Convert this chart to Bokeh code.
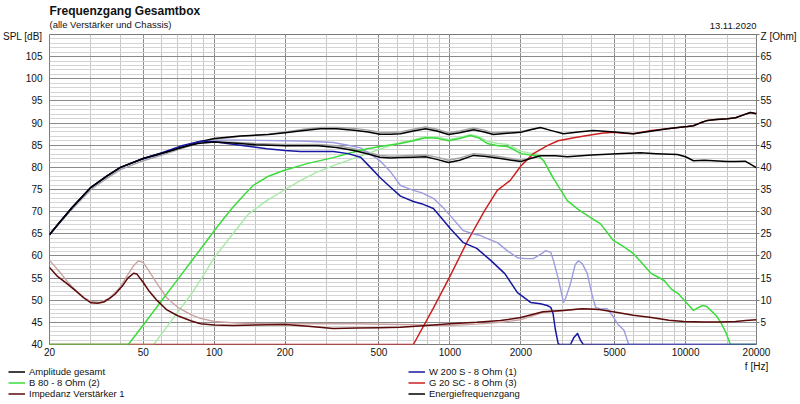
from bokeh.plotting import figure
from bokeh.layouts import column
from bokeh.models import Range1d, LinearAxis, FixedTicker, Label, Legend, LegendItem
from bokeh.embed import file_html
from bokeh.resources import INLINE

TITLE = "Frequenzgang Gesamtbox"
SUBTITLE = "(alle Verstärker und Chassis)"
DATE = "13.11.2020"
SPL_LABEL = "SPL [dB]"
Z_LABEL = "Z [Ohm]"
F_LABEL = "f [Hz]"

x_ticks = [20, 50, 100, 200, 500, 1000, 2000, 5000, 10000, 20000]
x_minor = [30, 40, 60, 70, 80, 90, 150, 300, 400, 600, 700, 800, 900, 1500,
           3000, 4000, 6000, 7000, 8000, 9000, 15000]
spl_ticks = list(range(40, 111, 5))
z_ticks = list(range(5, 71, 5))

# Amplitude gesamt (black) and its grey reference
amp_f = [20, 22, 25, 30, 35, 40, 50, 60, 72, 85, 100, 129, 170, 200, 240, 282, 330, 392, 450, 505,
         560, 617, 700, 788, 880, 986, 1100, 1259, 1400, 1530, 1750, 2000, 2200, 2421, 2700, 3034,
         3500, 4064, 5000, 6012, 7000, 8376, 9300, 10190, 10800, 11500, 12390, 13500, 15070, 16300,
         17500, 18840, 20000]
amp_db = [64.8, 67.5, 71.0, 75.5, 78.0, 80.0, 82.0, 83.2, 84.5, 85.7, 86.5, 87.1, 87.4, 87.8, 88.3, 88.7,
          88.7, 88.4, 88.0, 87.5, 87.5, 87.6, 88.2, 88.7, 88.2, 87.4, 87.8, 88.5, 88.0, 87.4, 87.7, 87.9,
          88.5, 89.0, 88.3, 87.6, 88.0, 88.3, 88.0, 87.6, 88.1, 88.7, 89.0, 89.2, 89.4, 90.0, 90.6, 90.8,
          91.0, 91.2, 91.8, 92.4, 92.1]
amp_ref_f = [20, 22, 25, 30, 35, 40, 50, 60, 72, 85, 100, 129, 170, 200, 240, 282, 330, 392, 450, 505,
             560, 617, 700, 788, 880, 986, 1100, 1259, 1400, 1530, 1750, 2000, 2421]
amp_ref_db = [64.8, 67.3, 70.6, 75.0, 77.5, 79.5, 81.5, 82.8, 84.2, 85.4, 86.3, 87.0, 87.5, 88.0, 88.6, 89.0,
              89.0, 88.8, 88.4, 87.9, 87.9, 88.0, 88.6, 89.1, 88.6, 87.8, 88.2, 88.9, 88.4, 87.8, 88.0, 88.1,
              89.0]

# Energiefrequenzgang (black, lower) and grey reference
en_f = [20, 22, 25, 30, 35, 40, 50, 60, 72, 85, 100, 120, 150, 200, 275, 330, 392, 450, 505, 560, 617,
        700, 788, 880, 986, 1100, 1259, 1400, 1640, 2000, 2200, 2421, 2800, 3150, 4000, 5140, 6430,
        7500, 9240, 10000, 10800, 12000, 13130, 15000, 16300, 17900, 19000, 20000]
en_db = [64.8, 67.5, 71.0, 75.5, 78.0, 80.0, 82.0, 83.2, 84.4, 85.4, 85.7, 85.5, 85.1, 84.9, 84.9, 84.5,
         83.8, 83.0, 82.3, 82.1, 82.2, 82.3, 82.4, 81.8, 81.1, 81.6, 82.7, 82.5, 82.0, 81.3, 82.0, 82.6,
         82.6, 82.4, 82.8, 83.1, 83.3, 83.1, 82.9, 82.4, 81.5, 81.6, 81.5, 81.3, 81.3, 81.4, 80.6, 79.9]
en_ref_f = [100, 120, 150, 200, 275, 330, 392, 450, 505, 560, 617, 700, 788, 880, 986, 1100, 1259,
            1400, 1640, 2000, 2421]
en_ref_db = [85.8, 85.7, 85.4, 85.2, 85.2, 84.9, 84.2, 83.4, 82.7, 82.5, 82.6, 82.7, 82.8, 82.3, 81.6,
             82.1, 83.1, 82.9, 82.4, 81.6, 82.6]

# W 200 S - 8 Ohm (1) (blue) and light reference
w_f = [20, 22, 25, 30, 35, 40, 50, 60, 72, 87.5, 100, 129, 167, 200, 232, 280, 320, 370, 418, 460,
       505, 560, 617, 700, 757, 851, 940, 1003, 1141, 1300, 1490, 1710, 1935, 2200, 2420, 2590, 2680,
       2740, 2800, 2880, 2920, 3250, 3360, 3478, 3580, 3680, 20000]
w_db = [64.8, 67.5, 71.0, 75.5, 78.0, 80.0, 82.0, 83.3, 84.8, 85.9, 85.8, 85.0, 84.2, 83.8, 83.6, 83.6,
        83.6, 83.1, 82.3, 80.0, 77.7, 75.5, 73.5, 72.3, 71.8, 70.7, 68.0, 66.2, 63.0, 61.7, 59.0, 56.0,
        51.7, 49.5, 49.2, 48.8, 48.4, 47.0, 43.5, 40.2, 40.0, 40.0, 41.6, 42.5, 41.0, 40.0, 40.0]
w_ref_f = [50, 60, 72, 87.5, 100, 120, 150, 200, 250, 320, 370, 418, 460, 505, 560, 617, 700, 757, 851,
           940, 1003, 1141, 1250, 1349, 1460, 1592, 1750, 1935, 2100, 2260, 2450, 2550, 2680, 2750,
           2880, 3034, 3100, 3250, 3400, 3510, 3650, 3830, 4000, 4150, 4400, 4650, 4900, 5140, 5480,
           5740, 20000]
w_ref_db = [81.8, 83.0, 84.5, 85.6, 86.0, 86.2, 86.1, 86.0, 85.9, 85.6, 85.0, 84.4, 83.0, 81.5, 79.0,
            75.9, 74.8, 74.3, 73.0, 70.8, 69.1, 65.7, 65.0, 64.6, 63.8, 63.0, 61.2, 59.6, 59.4, 59.4,
            60.5, 61.2, 60.8, 59.0, 55.0, 49.5, 50.5, 53.8, 58.0, 58.9, 58.2, 56.0, 51.5, 48.4, 48.0,
            48.1, 46.5, 44.7, 43.2, 40.0, 40.0]

# B 80 - 8 Ohm (2) (green) and light reference
b_f = [20, 43.2, 50, 60, 70, 80, 90, 100, 110, 120, 135, 147, 170, 197, 250, 320, 380, 446, 530, 617,
       700, 788, 880, 986, 1100, 1220, 1320, 1440, 1600, 1760, 1900, 2000, 2200, 2350, 2500, 2590,
       2750, 2960, 3150, 3500, 4000, 4350, 4940, 5500, 6010, 6500, 7160, 7600, 8130, 8700, 9300,
       10190, 10800, 11300, 11800, 12300, 12800, 13500, 14100, 14800, 15500, 20000]
b_db = [40.0, 40.0, 44.4, 50.0, 54.7, 58.8, 62.4, 65.7, 68.5, 71.0, 74.0, 76.0, 78.0, 79.3, 80.9, 82.2,
        83.3, 84.2, 84.9, 85.4, 86.0, 86.7, 86.6, 86.0, 86.5, 87.2, 86.7, 85.4, 84.9, 84.7, 83.8, 83.1,
        82.8, 82.7, 81.5, 80.0, 77.5, 74.8, 72.5, 70.5, 68.5, 67.3, 63.5, 62.0, 60.5, 58.5, 56.0, 55.3,
        54.4, 52.5, 51.5, 49.2, 47.7, 48.3, 48.8, 48.6, 47.7, 46.5, 45.0, 42.8, 40.0, 40.0]
b_ref_f = [20, 55.4, 60, 70, 80, 90, 100, 120, 140, 167, 200, 232, 270, 320, 380, 446, 530, 617, 700,
           788, 880, 986, 1100, 1220, 1320, 1440, 1600, 1760, 1900, 2000, 2200, 2350, 2500, 2590, 2750]
b_ref_db = [40.0, 40.0, 42.5, 47.3, 51.4, 55.6, 59.6, 65.0, 69.5, 72.5, 75.0, 77.0, 78.8, 80.4, 81.8,
            83.1, 84.5, 85.6, 86.2, 86.9, 86.8, 86.3, 86.7, 87.4, 87.0, 85.9, 85.4, 85.2, 84.3, 83.6,
            83.2, 83.0, 81.5, 80.0, 77.5]

# G 20 SC - 8 Ohm (3) (red)
g_f = [20, 700, 851, 1003, 1184, 1400, 1589, 1800, 2000, 2260, 2590, 2880, 3360, 3830, 4400, 4940,
       5500, 6012, 7160, 8376, 9300, 10190, 10800, 11500, 12390, 13500, 15070, 16300, 17500, 18840,
       20000]
g_db = [40.0, 40.0, 48.2, 55.5, 63.2, 70.1, 74.8, 77.0, 80.3, 83.1, 84.9, 86.0, 86.7, 87.2, 87.7, 87.9,
        87.7, 87.6, 88.3, 88.7, 89.0, 89.2, 89.4, 90.0, 90.6, 90.8, 91.0, 91.2, 91.8, 92.4, 92.1]

# Impedanz Verstärker 1 (Ohm) and light reference
z_f = [20, 21.5, 23.8, 26, 28, 30, 32, 34, 36, 38, 41, 43, 45.5, 47, 50, 53, 57.3, 63, 70, 80, 87.5,
       100, 120, 150, 200, 250, 320, 400, 500, 617, 800, 1000, 1300, 1640, 2000, 2480, 3000, 3650,
       4300, 5140, 6000, 7160, 8500, 9850, 12000, 14000, 16300, 18000, 20000]
z_ohm = [17.4, 15.5, 13.7, 12.0, 10.5, 9.4, 9.3, 9.6, 10.4, 11.4, 13.4, 15.0, 16.1, 15.9, 14.0, 12.0,
         9.9, 7.8, 6.5, 5.3, 4.7, 4.4, 4.3, 4.4, 4.5, 4.1, 3.6, 3.7, 3.8, 3.9, 4.3, 4.7, 5.0, 5.4, 6.1,
         7.4, 7.7, 8.1, 7.9, 7.2, 6.6, 6.1, 5.5, 5.2, 5.1, 5.1, 5.2, 5.4, 5.6]
z_ref_f = [20, 22, 24, 26, 28, 30, 33, 36, 40, 43, 45.5, 47.7, 50, 53, 57.3, 63, 70, 80, 87.5, 100, 120,
           150, 200, 300, 400, 617, 1000, 1300, 1640, 2000, 2480, 3000, 3650, 4300]
z_ref_ohm = [19.0, 16.5, 14.0, 12.1, 10.6, 9.7, 9.5, 10.5, 13.0, 15.8, 17.8, 18.9, 18.5, 16.5, 13.7,
             10.5, 8.4, 6.7, 5.9, 5.2, 4.9, 4.7, 4.7, 4.7, 4.7, 4.5, 4.3, 4.6, 5.0, 5.6, 7.2, 7.6, 8.1, 7.9]

FONT = "Liberation Sans"
TXT = "#111111"
C_AMP, C_B, C_W, C_G, C_Z = "#000000", "#3bdc3b", "#1717a3", "#cc1f1f", "#5c0a0a"

W = 800
HEAD_H, MAIN_H, FOOT_H = 30, 329, 45


def blank(height):
    f = figure(width=W, height=height, x_range=Range1d(0, 1), y_range=Range1d(0, 1),
               output_backend="svg", toolbar_location=None,
               x_axis_location=None, y_axis_location=None,
               min_border=0, min_border_left=0, min_border_right=0,
               min_border_top=0, min_border_bottom=0)
    f.grid.visible = False
    f.outline_line_color = None
    f.background_fill_color = "white"
    f.border_fill_color = "white"
    f.frame_align = False
    return f


def lab(fig, x, y, text, size="10px", align="left", style="normal"):
    fig.add_layout(Label(x=x, y=y, x_units="screen", y_units="screen", text=text,
                         text_font=FONT, text_font_size=size, text_align=align,
                         text_baseline="middle", text_font_style=style, text_color=TXT))


# ---------- header ----------
head = blank(HEAD_H)
lab(head, 49, HEAD_H - 10, TITLE, size="12px", style="bold")
lab(head, 49, HEAD_H - 24, SUBTITLE, size="9.5px")
lab(head, 756, HEAD_H - 25, DATE, size="9.5px", align="right")

# ---------- main chart ----------
p = figure(width=W, height=MAIN_H, x_axis_type="log",
           x_range=Range1d(20, 20000), y_range=Range1d(40, 110),
           output_backend="svg", toolbar_location=None,
           min_border_left=49, min_border_right=44, min_border_top=4, min_border_bottom=15)
p.frame_align = False
p.background_fill_color = "white"
p.border_fill_color = "white"
p.outline_line_color = "#7a7a7a"
p.extra_y_ranges = {"z": Range1d(0, 70)}

p.xgrid[0].ticker = FixedTicker(ticks=x_ticks, minor_ticks=x_minor)
p.xgrid[0].grid_line_color = "#8a8a8a"
p.xgrid[0].minor_grid_line_color = "#c6c6c6"
p.ygrid[0].ticker = FixedTicker(ticks=spl_ticks,
                                minor_ticks=[v for v in range(40, 111) if v % 5])
p.ygrid[0].grid_line_color = "#8a8a8a"
p.ygrid[0].minor_grid_line_color = "#d4d4d4"

xa = p.xaxis[0]
xa.ticker = FixedTicker(ticks=x_ticks)
xa.major_label_overrides = {t: str(t) for t in x_ticks}
ya = p.yaxis[0]
ya.ticker = FixedTicker(ticks=spl_ticks)
ya.major_label_overrides = {110: SPL_LABEL}
za = LinearAxis(y_range_name="z", ticker=FixedTicker(ticks=z_ticks))
za.major_label_overrides = {70: Z_LABEL}
p.add_layout(za, "right")
for ax in (xa, ya, za):
    ax.axis_line_color = None
    ax.minor_tick_line_color = None
    ax.minor_tick_out = 0
    ax.minor_tick_in = 0
    ax.major_label_text_font = FONT
    ax.major_label_text_font_size = "10px"
    ax.major_label_text_color = TXT
xa.major_tick_line_color = None
xa.major_tick_out = 0
xa.major_tick_in = 0
xa.major_label_standoff = 3
ya.major_tick_line_color = None
ya.major_tick_out = 0
ya.major_tick_in = 0
ya.major_label_standoff = 7
za.major_tick_line_color = "#7a7a7a"
za.major_tick_out = 3
za.major_tick_in = 0
za.major_label_standoff = 1

kw = dict(line_width=1.4, line_join="round")
p.line(amp_ref_f, amp_ref_db, line_color="#a3a3a3", **kw)
p.line(en_ref_f, en_ref_db, line_color="#a3a3a3", **kw)
p.line(b_ref_f, b_ref_db, line_color="#a6eaa6", **kw)
p.line(w_ref_f, w_ref_db, line_color="#9c9ce0", **kw)
p.line(z_ref_f, z_ref_ohm, line_color="#c9a3a3", y_range_name="z", **kw)

kw = dict(line_width=1.5, line_join="round")
p.line(g_f, g_db, line_color=C_G, **kw)
p.line(b_f, b_db, line_color=C_B, **kw)
p.line(amp_f, amp_db, line_color=C_AMP, **kw)
p.line(w_f, w_db, line_color=C_W, **kw)
p.line(en_f, en_db, line_color=C_AMP, **kw)
p.line(z_f, z_ohm, line_color=C_Z, y_range_name="z", **kw)

# ---------- footer: axis unit + legend ----------
# the legend lives in its own strip; its renderers carry the same series, which
# fall outside this strip's ranges, so only the legend swatches show
foot = blank(FOOT_H)
lab(foot, 756, FOOT_H - 7, F_LABEL, size="10px", align="center")
legend_names = ["Amplitude gesamt", "B 80 - 8 Ohm (2)", "Impedanz Verstärker 1",
                "W 200 S - 8 Ohm (1)", "G 20 SC - 8 Ohm (3)", "Energiefrequenzgang"]
legend_series = [(amp_f, amp_db, C_AMP), (b_f, b_db, C_B), (z_f, z_ohm, C_Z),
                 (w_f, w_db, C_W), (g_f, g_db, C_G), (en_f, en_db, C_AMP)]
items = []
for name, (xs, ys, col) in zip(legend_names, legend_series):
    r = foot.line(xs, ys, line_color=col, line_width=1.5)
    items.append(LegendItem(label=name, renderers=[r]))
common = dict(orientation="vertical", padding=0, margin=0, spacing=0,
              glyph_width=17, glyph_height=11, label_height=11, label_standoff=4,
              label_text_font=FONT, label_text_font_size="9.5px", label_text_color=TXT,
              background_fill_alpha=0, border_line_color=None)
foot.add_layout(Legend(items=items[:3], location=(8, 5), **common), "center")
foot.add_layout(Legend(items=items[3:], location=(408, 5), **common), "center")

page = column(head, p, foot, spacing=0)
open("out.html", "w").write(file_html(page, INLINE))
